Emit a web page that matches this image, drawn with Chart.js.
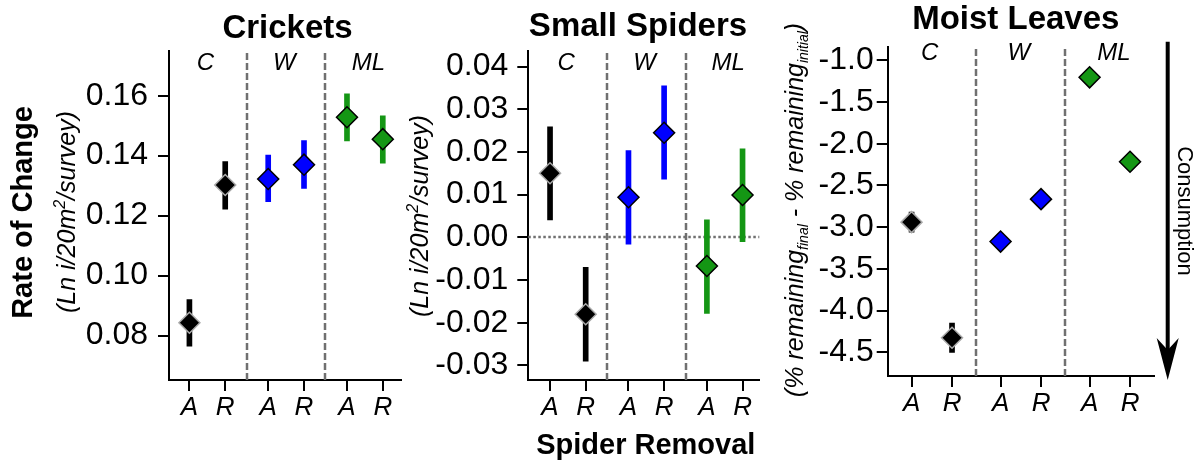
<!DOCTYPE html>
<html>
<head>
<meta charset="utf-8">
<script src="https://cdn.jsdelivr.net/npm/chart.js@4"></script>
<style>
  body { margin: 0; background: #fff; }
  #wrap { position: relative; width: 1200px; height: 464px; overflow: hidden; }
  canvas { position: absolute; top: 0; }
</style>
</head>
<body>
<div id="wrap">
  <canvas id="crickets" width="402" height="464" style="left:0px"></canvas>
  <canvas id="spiders" width="373" height="464" style="left:402px"></canvas>
  <canvas id="leaves" width="425" height="464" style="left:775px"></canvas>
</div>
<script>
// treatment groups and spider removal levels
const groups = ['C', 'W', 'ML'];
const removal = ['A', 'R', 'A', 'R', 'A', 'R'];
const xPos = [1, 2, 3.2, 4.2, 5.4, 6.4];

// crickets
const cricketMean = [0.0843, 0.1302, 0.1322, 0.1370, 0.1528, 0.1455];
const cricketLow  = [0.0765, 0.1222, 0.1247, 0.1291, 0.1449, 0.1375];
const cricketHigh = [0.0920, 0.1380, 0.1402, 0.1450, 0.1606, 0.1533];
const cricketTicks = [0.08, 0.10, 0.12, 0.14, 0.16];

// small spiders
const spiderMean = [0.0150, -0.0180, 0.0094, 0.0245, -0.0067, 0.0099];
const spiderLow  = [0.0041, -0.0290, -0.0016, 0.0136, -0.0178, -0.0010];
const spiderHigh = [0.0259, -0.0070, 0.0203, 0.0355, 0.0041, 0.0207];
const spiderTicks = [-0.03, -0.02, -0.01, 0, 0.01, 0.02, 0.03, 0.04];

// moist leaves
const leafMean = [-2.94, -4.325, -3.173, -2.664, -1.204, -2.216];
const leafLow  = [-3.06, -4.50, -3.27, -2.76, -1.25, -2.26];
const leafHigh = [-2.82, -4.15, -3.08, -2.57, -1.16, -2.17];
const leafTicks = [-4.5, -4.0, -3.5, -3.0, -2.5, -2.0, -1.5, -1.0];

const FONT = '"Liberation Sans", Arial, Helvetica, sans-serif';
const colors = ['#000000', '#000000', '#0000ff', '#0000ff', '#149614', '#149614'];
const edges = ['#aaaaaa', '#aaaaaa', '#000000', '#000000', '#000000', '#000000'];

function richText(ctx, parts, x, y, angle) {
  ctx.save();
  ctx.translate(x, y);
  ctx.rotate(angle);
  ctx.fillStyle = '#000';
  ctx.textAlign = 'left';
  ctx.textBaseline = 'alphabetic';
  let total = 0;
  parts.forEach(p => { ctx.font = p[1] + ' ' + FONT; total += ctx.measureText(p[0]).width; });
  let cx = -total / 2;
  parts.forEach(p => {
    ctx.font = p[1] + ' ' + FONT;
    ctx.fillText(p[0], cx, p[2] || 0);
    cx += ctx.measureText(p[0]).width;
  });
  ctx.restore();
}

const decor = {
  id: 'decor',
  beforeDatasetsDraw(chart, args, o) {
    const ctx = chart.ctx, a = chart.chartArea, x = chart.scales.x, y = chart.scales.y;
    ctx.save();
    ctx.strokeStyle = '#707070';
    ctx.lineWidth = 2.5;
    ctx.setLineDash([7, 3]);
    [2.6, 4.8].forEach(v => {
      const px = Math.round(x.getPixelForValue(v));
      ctx.beginPath(); ctx.moveTo(px, a.bottom); ctx.lineTo(px, a.top); ctx.stroke();
    });
    if (o.zero) {
      ctx.setLineDash([2.5, 2.5]);
      const py = Math.round(y.getPixelForValue(0));
      ctx.beginPath(); ctx.moveTo(a.left, py); ctx.lineTo(a.right, py); ctx.stroke();
    }
    ctx.setLineDash([]);
    ctx.fillStyle = '#000';
    ctx.font = 'italic 24px ' + FONT;
    ctx.textAlign = 'center';
    ctx.textBaseline = 'alphabetic';
    [1.45, 3.65, 6.0].forEach((v, i) => ctx.fillText(groups[i], x.getPixelForValue(v), a.top + o.labelDrop));
    ctx.restore();
  },
  afterDraw(chart, args, o) {
    const ctx = chart.ctx;
    (o.texts || []).forEach(t => richText(ctx, t.parts, t.x - o.left, t.y, t.angle || 0));
    if (o.arrow) {
      const ax = o.arrow.x - o.left;
      ctx.save();
      ctx.strokeStyle = '#000';
      ctx.fillStyle = '#000';
      ctx.lineWidth = 4;
      ctx.beginPath(); ctx.moveTo(ax, o.arrow.top); ctx.lineTo(ax, o.arrow.tip - 20); ctx.stroke();
      ctx.beginPath();
      ctx.moveTo(ax, o.arrow.tip);
      ctx.lineTo(ax + 11, o.arrow.tip - 42);
      ctx.lineTo(ax, o.arrow.tip - 30);
      ctx.lineTo(ax - 11, o.arrow.tip - 42);
      ctx.closePath();
      ctx.fill();
      ctx.restore();
    }
  }
};

function axisOptions(extra) {
  return Object.assign({
    type: 'linear',
    offset: false,
    display: true,
    border: { display: true, color: '#000000', width: 2 },
    grid: {
      display: true, offset: false, drawOnChartArea: false, drawTicks: true,
      tickLength: 11, tickWidth: 2, tickColor: '#000000', color: '#000000', lineWidth: 2
    }
  }, extra);
}

// stop the scales from asking for extra room for edge labels
function noPadding(s) {
  s.paddingLeft = 0; s.paddingRight = 0; s.paddingTop = 0; s.paddingBottom = 0;
}

function makePanel(id, p) {
  new Chart(document.getElementById(id), {
    type: 'scatter',
    data: {
      datasets: [
        {
          type: 'scatter',
          data: xPos.map((v, i) => ({ x: v, y: p.mean[i] })),
          pointStyle: 'rectRot',
          pointRadius: 10.5,
          backgroundColor: colors,
          borderColor: edges,
          borderWidth: 1.5,
          clip: false,
          order: 0
        },
        {
          type: 'bar',
          data: xPos.map((v, i) => ({ x: v, y: [p.low[i], p.high[i]] })),
          backgroundColor: colors,
          barThickness: 5,
          borderWidth: 0,
          order: 1
        }
      ]
    },
    options: {
      responsive: false,
      animation: false,
      events: [],
      layout: { autoPadding: false, padding: { top: p.top, right: p.right, left: 0, bottom: 0 } },
      scales: {
        x: axisOptions({
          position: 'bottom',
          min: p.xmin, max: p.xmax,
          ticks: {
            autoSkip: false, maxRotation: 0, padding: 1, color: '#000',
            font: { family: FONT, size: 26, style: 'italic' },
            callback: (v, i) => removal[i]
          },
          afterBuildTicks: s => { s.ticks = xPos.map(v => ({ value: v })); },
          afterFit: s => { s.height = p.xh; noPadding(s); }
        }),
        y: axisOptions({
          position: 'left',
          min: p.ymin, max: p.ymax,
          beginAtZero: false,
          ticks: {
            padding: p.pad, color: '#000',
            font: { family: FONT, size: 32 },
            callback: v => v.toFixed(p.dec)
          },
          afterBuildTicks: s => { s.ticks = p.ticks.map(v => ({ value: v })); },
          afterFit: s => { s.width = p.yw; noPadding(s); }
        })
      },
      plugins: {
        legend: { display: false },
        tooltip: { enabled: false },
        decor: { left: p.left, zero: p.zero, labelDrop: p.labelDrop, texts: p.texts, arrow: p.arrow }
      }
    },
    plugins: [decor]
  });
}

makePanel('crickets', {
  mean: cricketMean, low: cricketLow, high: cricketHigh, ticks: cricketTicks, dec: 2,
  left: 0, top: 51, right: 1.3, yw: 169, xh: 84, pad: 10,
  xmin: 0.43, xmax: 6.9, ymin: 0.0652, ymax: 0.1749, labelDrop: 19,
  texts: [
    { parts: [['Crickets', 'bold 33px']], x: 287.5, y: 38.3 },
    { parts: [['Rate of Change', 'bold 29px']], x: 32, y: 212.5, angle: -Math.PI / 2 },
    { parts: [['(Ln i/20m', 'italic 25px'], ['2', 'italic 16px', -10], ['/survey)', 'italic 25px']], x: 75, y: 212, angle: -Math.PI / 2 }
  ]
});

makePanel('spiders', {
  mean: spiderMean, low: spiderLow, high: spiderHigh, ticks: spiderTicks, dec: 2,
  left: 402, top: 50.7, right: 15.7, yw: 126.3, xh: 84, pad: 9, zero: true,
  xmin: 0.39, xmax: 6.87, ymin: -0.0334, ymax: 0.0437, labelDrop: 19.3,
  texts: [
    { parts: [['Small Spiders', 'bold 33px']], x: 638, y: 36 },
    { parts: [['(Ln i/20m', 'italic 25px'], ['2', 'italic 16px', -10], ['/survey)', 'italic 25px']], x: 428, y: 216, angle: -Math.PI / 2 },
    { parts: [['Spider Removal', 'bold 29px']], x: 645.8, y: 454 }
  ]
});

makePanel('leaves', {
  mean: leafMean, low: leafLow, high: leafHigh, ticks: leafTicks, dec: 1,
  left: 775, top: 46.7, right: 45.7, yw: 112.7, xh: 88, pad: 3,
  xmin: 0.41, xmax: 7.0, ymin: -4.784, ymax: -0.837, labelDrop: 13.3,
  texts: [
    { parts: [['Moist Leaves', 'bold 33px']], x: 1015.8, y: 28.5 },
    { parts: [['(% remaining', 'italic 25px'], ['final', 'italic 14px', 5], [' - % remaining', 'italic 25px'], ['initial', 'italic 14px', 5], [')', 'italic 25px']], x: 803, y: 210, angle: -Math.PI / 2 },
    { parts: [['Consumption', '22px']], x: 1178, y: 211, angle: Math.PI / 2 }
  ],
  arrow: { x: 1167.7, top: 41.7, tip: 380 }
});
</script>
</body>
</html>
